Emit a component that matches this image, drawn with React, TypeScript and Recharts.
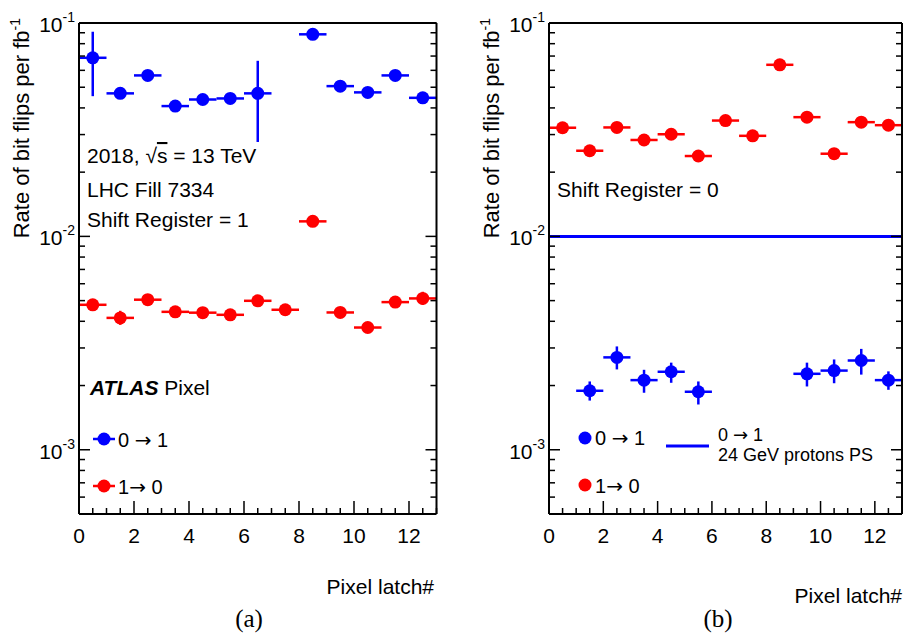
import React from "react";
import { ScatterChart, Scatter, XAxis, YAxis, ErrorBar, ReferenceLine } from "recharts";

const FONT = "'Liberation Sans', Arial, Helvetica, sans-serif";
const ARROW_FONT = "'DejaVu Sans', sans-serif";
const BLUE = "#0000ff";
const RED = "#ff0000";

// bins of the pixel latch number
const binCenters = [0.5, 1.5, 2.5, 3.5, 4.5, 5.5, 6.5, 7.5, 8.5, 9.5, 10.5, 11.5, 12.5];
const binHalfWidth = 0.5;

// (a) Shift Register = 1
const a01 = [0.0687, 0.0468, 0.0568, 0.0408, 0.0438, 0.0443, 0.0468, null, 0.0885, 0.0506, 0.0473, 0.0568, 0.0446];
const a01Low = [0.0454, 0.0452, 0.0551, 0.0395, 0.0425, 0.043, 0.0277, null, 0.0865, 0.049, 0.0458, 0.0551, 0.0432];
const a01High = [0.091, 0.0484, 0.0585, 0.0421, 0.0451, 0.0456, 0.0665, null, 0.0905, 0.0522, 0.0488, 0.0585, 0.046];
const a10 = [0.00478, 0.00415, 0.00505, 0.00443, 0.00439, 0.00429, 0.00499, 0.00453, 0.01176, 0.0044, 0.00374, 0.00492, 0.00512];
const a10Low = [0.00462, 0.00385, 0.00488, 0.00428, 0.00424, 0.00414, 0.00482, 0.00438, 0.01145, 0.00425, 0.00361, 0.00475, 0.00478];
const a10High = [0.00494, 0.00448, 0.00522, 0.00458, 0.00454, 0.00444, 0.00516, 0.00468, 0.01207, 0.00455, 0.00387, 0.00509, 0.0055];

// (b) Shift Register = 0
const b01 = [null, 0.00189, 0.00271, 0.00212, 0.00232, 0.00187, null, null, null, 0.00227, 0.00235, 0.00262, 0.00212];
const b01Low = [null, 0.0017, 0.00238, 0.00185, 0.00206, 0.00163, null, null, null, 0.00198, 0.00205, 0.00225, 0.00191];
const b01High = [null, 0.00209, 0.00305, 0.00237, 0.00256, 0.00209, null, null, null, 0.00256, 0.00265, 0.00297, 0.00233];
const b10 = [0.0323, 0.0252, 0.0324, 0.0283, 0.0301, 0.0238, 0.0349, 0.0296, 0.0637, 0.0362, 0.0244, 0.0343, 0.0332];
const b10Low = [0.0316, 0.0246, 0.0317, 0.0277, 0.0294, 0.0232, 0.0341, 0.0289, 0.0626, 0.0354, 0.0238, 0.0335, 0.0324];
const b10High = [0.033, 0.0258, 0.0331, 0.0289, 0.0308, 0.0244, 0.0357, 0.0303, 0.0648, 0.037, 0.025, 0.0351, 0.034];

// 24 GeV protons PS, 0 -> 1
const psRate = 0.01;

// axes
const xDomain = [0, 13];
const xTicks = [0, 0.5, 1, 1.5, 2, 2.5, 3, 3.5, 4, 4.5, 5, 5.5, 6, 6.5, 7, 7.5, 8, 8.5, 9, 9.5, 10, 10.5, 11, 11.5, 12, 12.5, 13];
const xLabels = [0, 2, 4, 6, 8, 10, 12];
const yDomain = [0.0005, 0.1];
const yTicks = [
  0.0006, 0.0007, 0.0008, 0.0009,
  0.001, 0.002, 0.003, 0.004, 0.005, 0.006, 0.007, 0.008, 0.009,
  0.01, 0.02, 0.03, 0.04, 0.05, 0.06, 0.07, 0.08, 0.09, 0.1,
];
const yMajor = [0.001, 0.01, 0.1];
const yMajorExp = ["-3", "-2", "-1"];

function rows(vals: (number | null)[], lo: (number | null)[], hi: (number | null)[]) {
  return binCenters
    .map((x, i) => {
      const v = vals[i];
      if (v == null) return null;
      return { x, y: v, ex: binHalfWidth, ey: [v - (lo[i] as number), (hi[i] as number) - v] };
    })
    .filter(Boolean) as any[];
}

const majorYIndex = (v: number) => yMajor.findIndex((m) => Math.abs(m - v) / m < 1e-6);
const isMajorX = (v: number) => xLabels.includes(v);

function BottomTick(props: any) {
  const { x, y, payload } = props;
  const major = isMajorX(payload.value);
  return (
    <g>
      <line x1={x} x2={x} y1={y} y2={y - (major ? 13 : 6)} stroke="#000" strokeWidth={1.5} />
      {major && (
        <text x={x} y={y + 29} textAnchor="middle" fontSize={21} fontFamily={FONT} fill="#000">
          {payload.value}
        </text>
      )}
    </g>
  );
}

function TopTick(props: any) {
  const { x, y, payload } = props;
  const major = isMajorX(payload.value);
  return <line x1={x} x2={x} y1={y} y2={y + (major ? 13 : 6)} stroke="#000" strokeWidth={1.5} />;
}

function LeftTick(props: any) {
  const { x, y, payload } = props;
  const k = majorYIndex(payload.value);
  return (
    <g>
      <line x1={x} x2={x + (k >= 0 ? 11 : 6)} y1={y} y2={y} stroke="#000" strokeWidth={1.5} />
      {k >= 0 && (
        <text x={x - 4} y={y + 9} textAnchor="end" fontFamily={FONT} fill="#000">
          <tspan fontSize={21}>10</tspan>
          <tspan fontSize={14} dy={-10}>{yMajorExp[k]}</tspan>
        </text>
      )}
    </g>
  );
}

function RightTick(props: any) {
  const { x, y, payload } = props;
  const k = majorYIndex(payload.value);
  return <line x1={x} x2={x - (k >= 0 ? 11 : 6)} y1={y} y2={y} stroke="#000" strokeWidth={1.5} />;
}

const dot = (color: string) => (p: any) => <circle cx={p.cx} cy={p.cy} r={6.5} fill={color} />;

type Series = { data: any[]; color: string; name: string };

function Panel({ left, width, plotLeft, plotRight, series, refLine }: {
  left: number; width: number; plotLeft: number; plotRight: number; series: Series[]; refLine?: number;
}) {
  const frame = { stroke: "#000", strokeWidth: 2 };
  // each axis gets a 1px box, so the margins stop 1px short of the frame
  return (
    <div style={{ position: "absolute", left, top: 0 }}>
      <ScatterChart
        width={width}
        height={635}
        margin={{ top: 22, right: width - plotRight - 1, bottom: 120, left: plotLeft - 1 }}
      >
        <XAxis xAxisId="b" dataKey="x" type="number" domain={xDomain} ticks={xTicks} interval={0}
          allowDataOverflow height={1} tickSize={0} tickMargin={0} tickLine={false} axisLine={frame}
          tick={(p: any) => <BottomTick {...p} />} />
        <XAxis xAxisId="t" orientation="top" type="number" domain={xDomain} ticks={xTicks} interval={0}
          allowDataOverflow height={1} tickSize={0} tickMargin={0} tickLine={false} axisLine={frame}
          tick={(p: any) => <TopTick {...p} />} />
        <YAxis yAxisId="l" dataKey="y" type="number" scale="log" domain={yDomain} ticks={yTicks} interval={0}
          allowDataOverflow width={1} tickSize={0} tickMargin={0} tickLine={false} axisLine={frame}
          tick={(p: any) => <LeftTick {...p} />} />
        <YAxis yAxisId="r" orientation="right" type="number" scale="log" domain={yDomain} ticks={yTicks} interval={0}
          allowDataOverflow width={1} tickSize={0} tickMargin={0} tickLine={false} axisLine={frame}
          tick={(p: any) => <RightTick {...p} />} />
        {refLine != null && (
          <ReferenceLine xAxisId="b" yAxisId="l" y={refLine} stroke={BLUE} strokeWidth={3} />
        )}
        {series.map((s) => (
          <Scatter key={s.name} name={s.name} xAxisId="b" yAxisId="l" data={s.data} fill={s.color}
            shape={dot(s.color)} isAnimationActive={false}>
            <ErrorBar dataKey="ex" direction="x" width={0} stroke={s.color} strokeWidth={2.5} />
            <ErrorBar dataKey="ey" direction="y" width={0} stroke={s.color} strokeWidth={2.5} />
          </Scatter>
        ))}
      </ScatterChart>
    </div>
  );
}

const Arrow = () => <tspan fontFamily={ARROW_FONT}>→</tspan>;

export default function App() {
  const seriesA: Series[] = [
    { name: "a10", data: rows(a10, a10Low, a10High), color: RED },
    { name: "a01", data: rows(a01, a01Low, a01High), color: BLUE },
  ];
  const seriesB: Series[] = [
    { name: "b10", data: rows(b10, b10Low, b10High), color: RED },
    { name: "b01", data: rows(b01, b01Low, b01High), color: BLUE },
  ];
  const t = { fontFamily: FONT, fill: "#000" };
  return (
    <div style={{ position: "absolute", left: 0, top: 0, width: 904, height: 635, background: "#fff" }}>
      <Panel left={0} width={460} plotLeft={79} plotRight={436.5} series={seriesA} />
      <Panel left={460} width={444} plotLeft={89} plotRight={442} series={seriesB} refLine={psRate} />
      <svg width={904} height={635} style={{ position: "absolute", left: 0, top: 0, pointerEvents: "none" }}>
        {/* y titles */}
        <text transform="translate(29,18) rotate(-90)" textAnchor="end" fontSize={22} {...t}>
          Rate of bit flips per fb<tspan fontSize={14} dy={-9}>-1</tspan>
        </text>
        <text transform="translate(499,18) rotate(-90)" textAnchor="end" fontSize={22} {...t}>
          Rate of bit flips per fb<tspan fontSize={14} dy={-9}>-1</tspan>
        </text>

        {/* x titles */}
        <text x={434} y={594} textAnchor="end" fontSize={21} {...t}>Pixel latch#</text>
        <text x={902} y={603} textAnchor="end" fontSize={21} {...t}>Pixel latch#</text>

        {/* captions */}
        <text x={249} y={627} textAnchor="middle" fontSize={25} fontFamily="'Liberation Serif', 'Times New Roman', serif" fill="#000">(a)</text>
        <text x={718} y={627} textAnchor="middle" fontSize={25} fontFamily="'Liberation Serif', 'Times New Roman', serif" fill="#000">(b)</text>

        {/* panel (a) annotations */}
        <text x={87} y={163} fontSize={21} {...t}>
          2018, √<tspan textDecoration="overline">s</tspan> = 13 TeV
        </text>
        <text x={87} y={197} fontSize={21} {...t}>LHC Fill 7334</text>
        <text x={87} y={227} fontSize={21} {...t}>Shift Register = 1</text>
        <text x={90} y={395} fontSize={21} {...t}>
          <tspan fontWeight="bold" fontStyle="italic">ATLAS</tspan> Pixel
        </text>
        <line x1={93} x2={115} y1={439} y2={439} stroke={BLUE} strokeWidth={2.5} />
        <circle cx={104} cy={439} r={6.5} fill={BLUE} />
        <text x={118} y={447} fontSize={20} {...t}>0 <Arrow /> 1</text>
        <line x1={93} x2={115} y1={486} y2={486} stroke={RED} strokeWidth={2.5} />
        <circle cx={104} cy={486} r={6.5} fill={RED} />
        <text x={118} y={494} fontSize={20} {...t}>1<Arrow /> 0</text>

        {/* panel (b) annotations */}
        <text x={557} y={197} fontSize={21} {...t}>Shift Register = 0</text>
        <circle cx={585} cy={438} r={6.5} fill={BLUE} />
        <text x={595} y={445} fontSize={20} {...t}>0 <Arrow /> 1</text>
        <circle cx={585} cy={485} r={6.5} fill={RED} />
        <text x={595} y={493} fontSize={20} {...t}>1<Arrow /> 0</text>
        <line x1={666} x2={709} y1={446} y2={446} stroke={BLUE} strokeWidth={3} />
        <text x={718} y={441} fontSize={18} {...t}>0 <Arrow /> 1</text>
        <text x={718} y={461} fontSize={18} {...t}>24 GeV protons PS</text>
      </svg>
    </div>
  );
}
